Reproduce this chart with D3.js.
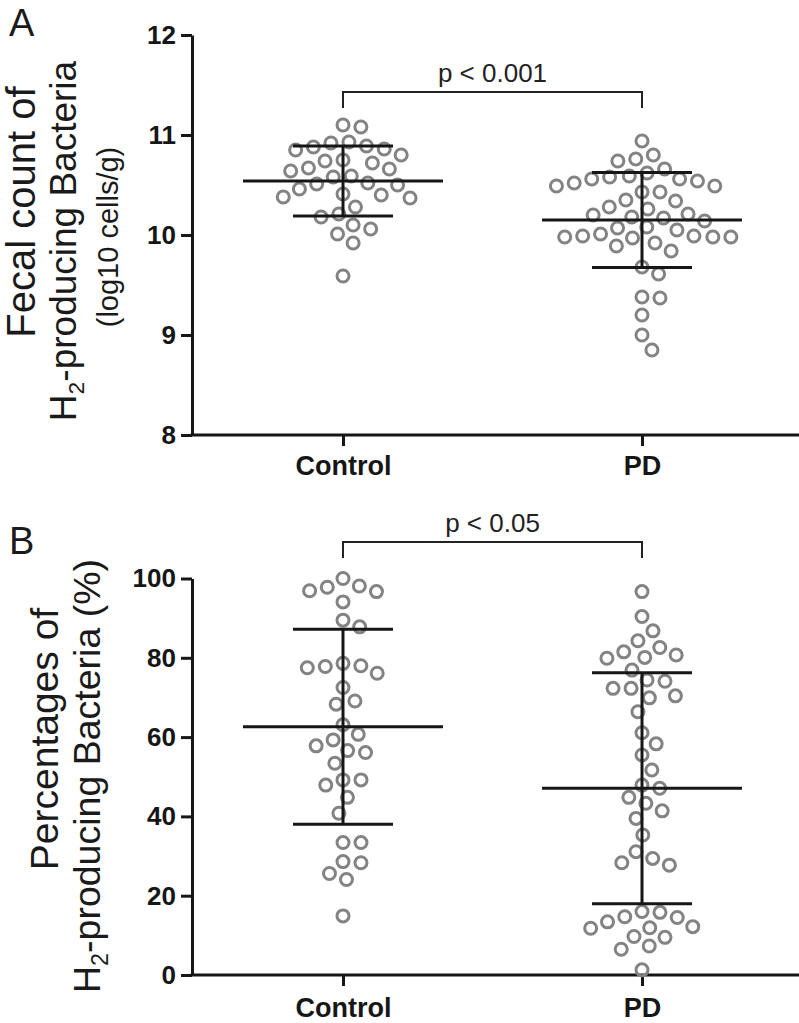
<!DOCTYPE html>
<html>
<head>
<meta charset="utf-8">
<script src="https://cdn.jsdelivr.net/npm/d3@7"></script>
<style>
  html, body { margin: 0; padding: 0; background: #fff; }
  svg { display: block; font-family: "Liberation Sans", Arial, Helvetica, sans-serif; }
</style>
</head>
<body>
<svg id="chart" width="799" height="1023"></svg>
<script>
// ---------------- DATA ----------------
const categories = ["Control", "PD"];

// Panel A: fecal count of H2-producing bacteria (log10 cells/g)
const countControl = [11.08, 11.10, 10.89, 10.86, 10.80, 10.74, 10.75, 10.85, 10.88, 10.92, 10.93,
  10.72, 10.66, 10.67, 10.64, 10.58, 10.59, 10.52, 10.50, 10.51, 10.46, 10.40, 10.37, 10.38, 10.41,
  10.28, 10.18, 10.21, 10.10, 10.01, 10.06, 9.92, 9.59];
const countPD = [10.94, 10.80, 10.74, 10.76, 10.66, 10.59, 10.56, 10.54, 10.49, 10.49, 10.52, 10.56,
  10.58, 10.62, 10.43, 10.43, 10.34, 10.35, 10.26, 10.28, 10.21, 10.18, 10.14, 10.17, 10.20, 10.07,
  10.05, 10.08, 9.99, 9.98, 9.97, 9.98, 9.98, 9.99, 10.01, 9.92, 9.89, 9.84, 9.68, 9.61, 9.37, 9.38,
  9.20, 9.00, 8.85];
const countMean = [10.54, 10.15];
const countSD = [0.35, 0.475];
const countTicks = [8, 9, 10, 11, 12];
const countP = "p < 0.001";

// Panel B: percentages of H2-producing bacteria (%)
const pctControl = [100, 98.1, 96.9, 96.7, 97.8, 94.1, 89.5, 87.8, 78.6, 77.8, 76.1, 77.5, 78.0, 72.5,
  69.1, 68.3, 63.1, 59.3, 60.7, 57.8, 56.1, 56.6, 53.4, 49.2, 47.9, 49.2, 44.8, 40.8, 33.4, 33.4,
  28.6, 28.3, 25.6, 24.1, 14.9];
const pctPD = [96.7, 90.4, 86.8, 84.3, 82.6, 80.7, 79.9, 81.5, 80.1, 76.9, 74.1, 74.4, 72.3, 72.3,
  69.9, 70.4, 66.4, 61.1, 58.3, 55.5, 51.7, 47.1, 47.9, 44.8, 43.3, 41.4, 39.5, 35.3, 31.1, 28.3,
  27.7, 29.4, 16.0, 14.5, 12.2, 9.5, 11.8, 7.3, 6.5, 11.9, 9.7, 13.4, 14.7, 15.8, 1.3];
const pctMean = [62.6, 47.1];
const pctSD = [24.6, 29.1];
const pctTicks = [0, 20, 40, 60, 80, 100];
const pctP = "p < 0.05";

// ---------------- DRAW ----------------
const svg = d3.select("#chart");
svg.append("rect").attr("width", 799).attr("height", 1023).attr("fill", "#fff");

const INK = "#161616";
const DOT = "#838383";
const axisX = 192;

function swarm(values, yScale, D) {
  const pts = values.map((v, i) => ({ v, y: yScale(v), x: 0, i }));
  const order = pts.slice().sort((a, b) => a.y - b.y);
  const placed = [];
  for (const p of order) {
    const near = placed.filter(q => Math.abs(q.y - p.y) < D);
    const cands = [0];
    for (const q of near) {
      const dx = Math.sqrt(D * D - (q.y - p.y) ** 2);
      cands.push(q.x + dx, q.x - dx);
    }
    cands.sort((a, b) => Math.abs(a) - Math.abs(b));
    for (const c of cands) {
      if (near.every(q => (q.x - c) ** 2 + (q.y - p.y) ** 2 >= D * D - 1e-6)) { p.x = c; break; }
    }
    placed.push(p);
  }
  return pts;
}

function panel(opt) {
  const g = svg.append("g");
  const y = d3.scaleLinear().domain(opt.domain).range(opt.range);
  const x = d3.scalePoint().domain(categories).range([343, 642]);
  const baseY = opt.range[0];

  // y axis
  const ya = g.append("g").attr("transform", `translate(${axisX},0)`)
    .call(d3.axisLeft(y).tickValues(opt.ticks).tickSize(11).tickSizeOuter(0).tickPadding(5).tickFormat(d3.format("d")));
  ya.select(".domain").attr("stroke", INK).attr("stroke-width", 3);
  ya.selectAll(".tick line").attr("stroke", INK).attr("stroke-width", 3);
  ya.selectAll(".tick text").attr("fill", INK).attr("font-size", 26).attr("font-weight", "bold")
    .attr("font-family", "'Liberation Sans', Arial, sans-serif");

  // x axis
  const xa = g.append("g").attr("transform", `translate(0,${baseY})`)
    .call(d3.axisBottom(x).tickSize(11).tickSizeOuter(0).tickPadding(opt.labelPad));
  xa.select(".domain").remove();
  xa.selectAll(".tick line").attr("stroke", INK).attr("stroke-width", 3);
  xa.selectAll(".tick text").attr("fill", INK).attr("font-size", 27).attr("font-weight", "bold")
    .attr("font-family", "'Liberation Sans', Arial, sans-serif").attr("dy", "0.71em");
  g.append("line").attr("x1", axisX - 1.5).attr("x2", 799).attr("y1", baseY).attr("y2", baseY)
    .attr("stroke", INK).attr("stroke-width", 3);

  // points
  opt.series.forEach((vals, k) => {
    const pts = swarm(vals, y, 18);
    g.append("g").selectAll("circle").data(pts).join("circle")
      .attr("cx", d => x(categories[k]) + d.x)
      .attr("cy", d => d.y)
      .attr("r", 6)
      .attr("fill", "none")
      .attr("stroke", DOT)
      .attr("stroke-width", 3);
  });

  // mean +/- SD
  categories.forEach((c, k) => {
    const cx = x(c), m = opt.mean[k], s = opt.sd[k];
    const lg = g.append("g").attr("stroke", INK).attr("stroke-width", 3);
    lg.append("line").attr("x1", cx - 100).attr("x2", cx + 100).attr("y1", y(m)).attr("y2", y(m));
    lg.append("line").attr("x1", cx).attr("x2", cx).attr("y1", y(m + s)).attr("y2", y(m - s));
    lg.append("line").attr("x1", cx - 50).attr("x2", cx + 50).attr("y1", y(m + s)).attr("y2", y(m + s));
    lg.append("line").attr("x1", cx - 50).attr("x2", cx + 50).attr("y1", y(m - s)).attr("y2", y(m - s));
  });

  // significance bracket
  const bx1 = x(categories[0]), bx2 = x(categories[1]);
  g.append("path")
    .attr("d", `M${bx1},${opt.bracketY + 16}V${opt.bracketY}H${bx2}V${opt.bracketY + 16}`)
    .attr("fill", "none").attr("stroke", "#222").attr("stroke-width", 2);
  g.append("text").attr("x", (bx1 + bx2) / 2).attr("y", opt.bracketY - 10)
    .attr("text-anchor", "middle").attr("font-size", 26).attr("fill", "#222").text(opt.p);

  // panel letter
  g.append("text").attr("x", 9).attr("y", opt.letterY).attr("font-size", 38).attr("fill", "#1a1a1a").text(opt.letter);

  // y title lines
  opt.titles.forEach(t => {
    const tx = g.append("text")
      .attr("transform", `translate(${t.x},${t.cy}) rotate(-90)`)
      .attr("text-anchor", "middle").attr("font-size", t.size).attr("fill", "#1a1a1a");
    t.parts.forEach(p => {
      const ts = tx.append("tspan").text(p.text);
      if (p.sub) ts.attr("font-size", t.size * 0.62).attr("dy", t.size * 0.22);
      else if (p.after) ts.attr("dy", -t.size * 0.22);
    });
  });
}

panel({
  domain: [8, 12], range: [435, 35], ticks: countTicks,
  series: [countControl, countPD], mean: countMean, sd: countSD,
  bracketY: 92, p: countP, letter: "A", letterY: 36, labelPad: 10,
  titles: [
    { x: 35, cy: 212, size: 40, parts: [{ text: "Fecal count of" }] },
    { x: 76, cy: 241, size: 37, parts: [{ text: "H" }, { text: "2", sub: true }, { text: "-producing Bacteria", after: true }] },
    { x: 118, cy: 237, size: 29, parts: [{ text: "(log10 cells/g)" }] }
  ]
});

panel({
  domain: [0, 100], range: [975, 578.5], ticks: pctTicks,
  series: [pctControl, pctPD], mean: pctMean, sd: pctSD,
  bracketY: 542, p: pctP, letter: "B", letterY: 554, labelPad: 12,
  titles: [
    { x: 58, cy: 739, size: 39, parts: [{ text: "Percentages of" }] },
    { x: 100, cy: 776, size: 37.5, parts: [{ text: "H" }, { text: "2", sub: true }, { text: "-producing Bacteria (%)", after: true }] }
  ]
});
</script>
</body>
</html>
